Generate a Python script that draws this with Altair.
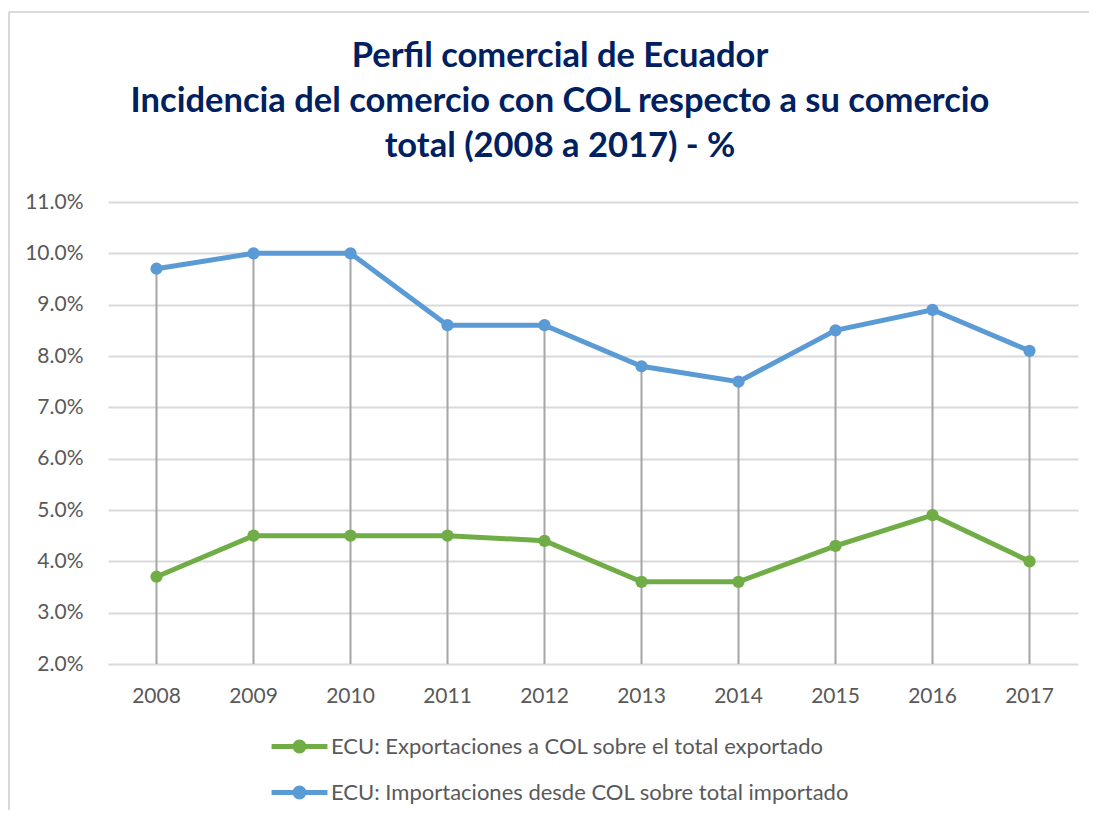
import altair as alt
import pandas as pd

years = ["2008", "2009", "2010", "2011", "2012", "2013", "2014", "2015", "2016", "2017"]
series_names = [
    "ECU: Exportaciones a COL sobre el total exportado",
    "ECU: Importaciones desde COL sobre total importado",
]
exports_pct = [3.7, 4.5, 4.5, 4.5, 4.4, 3.6, 3.6, 4.3, 4.9, 4.0]
imports_pct = [9.7, 10.0, 10.0, 8.6, 8.6, 7.8, 7.5, 8.5, 8.9, 8.1]
colors = ["#70ad47", "#5b9bd5"]
title_lines = [
    "Perfil comercial de Ecuador",
    "Incidencia del comercio con COL respecto a su comercio",
    "total (2008 a 2017) - %",
]

rows = []
for name, vals in zip(series_names, [exports_pct, imports_pct]):
    for y, v in zip(years, vals):
        rows.append({"year": y, "series": name, "value": v})
df = pd.DataFrame(rows)

drop = pd.DataFrame({
    "year": years,
    "low": [2.0] * len(years),
    "high": [max(a, b) for a, b in zip(exports_pct, imports_pct)],
})

FONT = "Lato"
GRAY = "#595959"

x_enc = alt.X("year:N", sort=years, title=None,
              scale=alt.Scale(paddingInner=0, paddingOuter=0),
              axis=alt.Axis(labelAngle=0, labelFont=FONT, labelFontSize=21, labelColor=GRAY,
                            ticks=False, domain=False, grid=False, labelPadding=21))
y_scale = alt.Scale(domain=[2, 11], nice=False, zero=False)

one = pd.DataFrame({"k": [0]})
border_top = alt.Chart(one).mark_rule(color="#d9d9d9", strokeWidth=2).encode(
    x=alt.value(-99), x2=alt.value(2000), y=alt.value(-190))
border_left = alt.Chart(one).mark_rule(color="#d9d9d9", strokeWidth=2).encode(
    x=alt.value(-99), y=alt.value(-190), y2=alt.value(900))

rules = alt.Chart(drop).mark_rule(color="#a6a6a6", strokeWidth=2).encode(
    x=x_enc,
    y=alt.Y("low:Q", scale=y_scale, title=None,
            axis=alt.Axis(values=[2, 3, 4, 5, 6, 7, 8, 9, 10, 11],
                          labelExpr="format(datum.value, '.1f') + '%'",
                          labelFont=FONT, labelFontSize=21, labelColor=GRAY,
                          ticks=False, domain=False, labelPadding=25,
                          gridColor="#d9d9d9", gridWidth=2)),
    y2="high:Q",
)

color_enc = alt.Color("series:N", sort=series_names,
                      scale=alt.Scale(domain=series_names, range=colors),
                      legend=alt.Legend(
                          title=None, orient="none", legendX=167, legendY=520,
                          direction="vertical",
                          symbolType="M-1.27,0L1.27,0M-0.2,0A0.2,0.2,0,1,0,0.2,0A0.2,0.2,0,1,0,-0.2,0Z",
                          symbolSize=1936, symbolStrokeWidth=5,
                          labelFont=FONT, labelFontSize=22, labelColor=GRAY,
                          labelOffset=7, rowPadding=7, labelLimit=900))

lines = alt.Chart(df).mark_line(strokeWidth=5).encode(
    x=x_enc, y=alt.Y("value:Q", scale=y_scale), color=color_enc
)
points = alt.Chart(df).mark_point(filled=True, size=150, opacity=1).encode(
    x=x_enc, y=alt.Y("value:Q", scale=y_scale), color=color_enc
)

chart = alt.layer(border_top, border_left, rules, lines, points).properties(
    width=970, height=462,
    autosize=alt.AutoSizeParams(type="none"),
    padding={"left": 100, "top": 194, "right": 11, "bottom": 146},
    title=alt.Title(title_lines, font=FONT, fontSize=34.5, fontWeight="bold", color="#002060",
                    anchor="middle", frame="group", dx=-33, offset=-153, lineHeight=45),
).configure_view(stroke=None)

chart.save("out.html", embed_options={"renderer": "svg", "actions": False})
